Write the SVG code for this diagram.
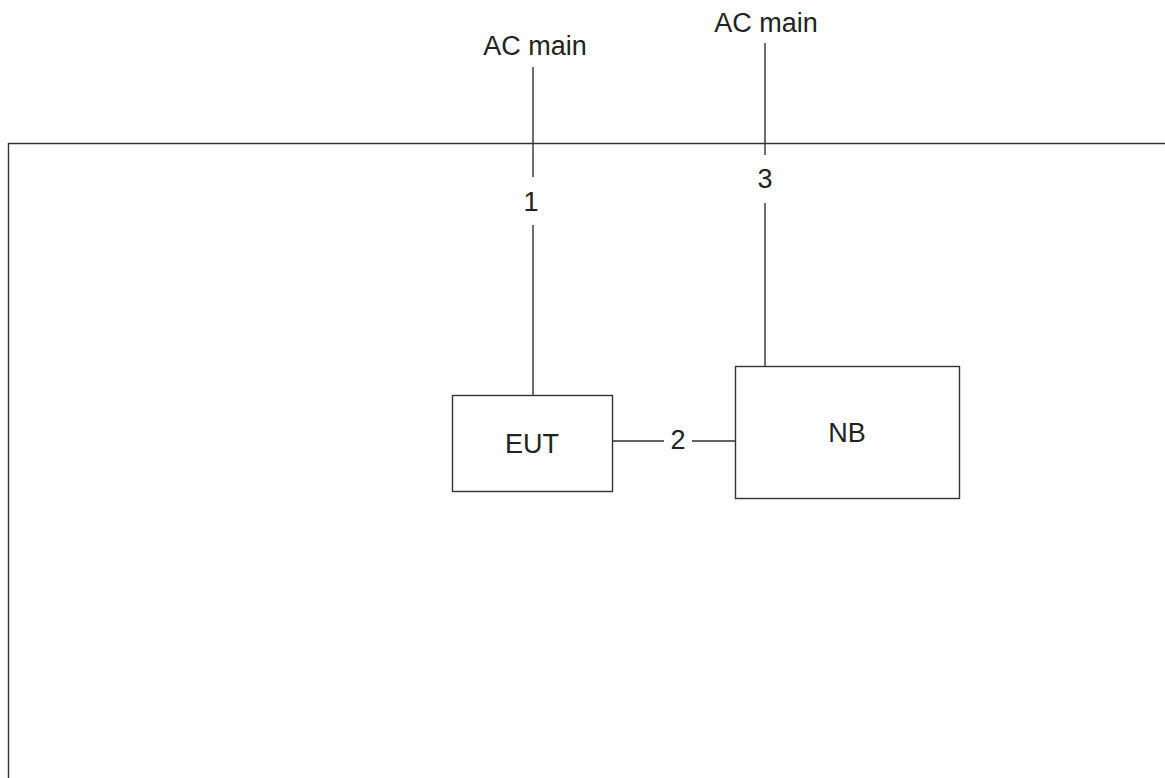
<svg xmlns="http://www.w3.org/2000/svg" width="1165" height="778" viewBox="0 0 1165 778">
<style>
.ln{stroke:#333;stroke-width:1.4;fill:none}
.bx{stroke:#333;stroke-width:1.4;fill:#fff}
.t{font-family:"Liberation Sans",Arial,sans-serif;font-size:27px;fill:#222;text-anchor:middle}
</style>
<rect width="1165" height="778" fill="#fff"/>
<g id="frame"><path class="ln" d="M8.5,778 V143.5 H1165"/></g>
<g id="connectors">
<path class="ln" d="M533,67 V177 M533,225 V395"/>
<path class="ln" d="M765,43 V155 M765,203 V366"/>
<path class="ln" d="M613,441 H664 M692,441 H735"/>
<text class="t" x="531" y="211">1</text>
<text class="t" x="678" y="449">2</text>
<text class="t" x="765" y="188">3</text>
</g>
<g id="ac1"><text class="t" x="535" y="55">AC main</text></g>
<g id="ac2"><text class="t" x="766" y="32">AC main</text></g>
<g id="eut"><rect class="bx" x="452.5" y="395.5" width="160" height="96"/><text class="t" x="532" y="453">EUT</text></g>
<g id="nb"><rect class="bx" x="735.5" y="366.5" width="224" height="132"/><text class="t" x="847" y="442">NB</text></g>
</svg>
